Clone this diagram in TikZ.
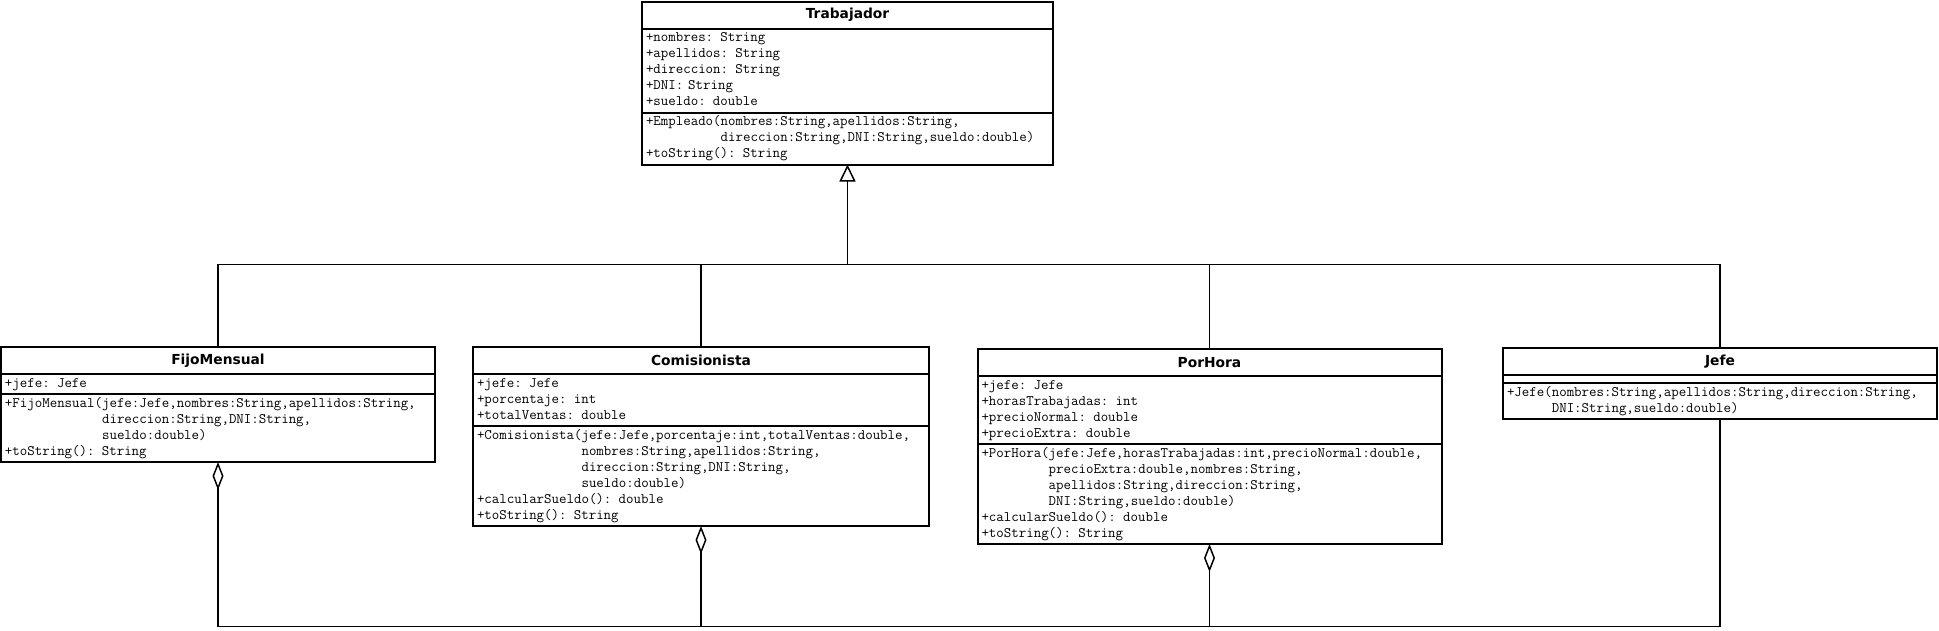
\documentclass[tikz,border=0pt]{standalone}
\usepackage{fontspec}
\usepackage{tikz}
\usetikzlibrary{arrows.meta}
\usetikzlibrary{positioning}

\newfontfamily\umlsans{DejaVu Sans}
\newcommand{\umlrows}[1]{\begin{tabular}{@{}l@{}}#1\end{tabular}}

\begin{document}
\begin{tikzpicture}[x=1pt, y=-1pt,
        classname/.style={draw, line width=2pt, outer sep=0pt, inner sep=0pt, minimum width=#1, minimum height=27pt, font=\umlsans\bfseries\fontsize{13.8}{16}\selectfont},
        members/.style={draw, line width=2pt, outer sep=0pt, inner xsep=4pt, inner ysep=2pt, text width=#1, align=left, font=\ttfamily\fontsize{14.5}{16}\selectfont},
        link/.style={line width=1.5pt},
        aggr/.style={link, {Diamond[open, length=28pt, width=11pt]}-},
        inherit/.style={link, -{Triangle[open, length=17pt, width=16pt]}}]
        \path[use as bounding box, fill=white] (0,0) rectangle (1939,630);

        \node[classname=411pt, anchor=north west] (trab) at (642,1.5) {Trabajador};
        \node[members=403pt, below=0pt of trab] (trab-a) {\umlrows{+nombres: String\\ +apellidos: String\\ +direccion: String\\ +DNI: String\\ +sueldo: double}};
        \node[members=403pt, below=0pt of trab-a] (trab-m) {\umlrows{+Empleado(nombres:String,apellidos:String,\\ \phantom{+Empleado(}direccion:String,DNI:String,sueldo:double)\\ +toString(): String}};

        \node[classname=434pt, anchor=north west] (fijo) at (1,347) {FijoMensual};
        \node[members=426pt, below=0pt of fijo] (fijo-a) {\umlrows{+jefe: Jefe}};
        \node[members=426pt, below=0pt of fijo-a] (fijo-m) {\umlrows{+FijoMensual(jefe:Jefe,nombres:String,apellidos:String,\\ \phantom{+FijoMensual(}direccion:String,DNI:String,\\ \phantom{+FijoMensual(}sueldo:double)\\ +toString(): String}};

        \node[classname=456pt, right=38pt of fijo] (comi) {Comisionista};
        \node[members=448pt, below=0pt of comi] (comi-a) {\umlrows{+jefe: Jefe\\ +porcentaje: int\\ +totalVentas: double}};
        \node[members=448pt, below=0pt of comi-a] (comi-m) {\umlrows{+Comisionista(jefe:Jefe,porcentaje:int,totalVentas:double,\\ \phantom{+Comisionista(}nombres:String,apellidos:String,\\ \phantom{+Comisionista(}direccion:String,DNI:String,\\ \phantom{+Comisionista(}sueldo:double)\\ +calcularSueldo(): double\\ +toString(): String}};

        \node[classname=464pt, right=48.5pt of comi, yshift=-2pt] (porh) {PorHora};
        \node[members=456pt, below=0pt of porh] (porh-a) {\umlrows{+jefe: Jefe\\ +horasTrabajadas: int\\ +precioNormal: double\\ +precioExtra: double}};
        \node[members=456pt, below=0pt of porh-a] (porh-m) {\umlrows{+PorHora(jefe:Jefe,horasTrabajadas:int,precioNormal:double,\\ \phantom{+PorHora(}precioExtra:double,nombres:String,\\ \phantom{+PorHora(}apellidos:String,direccion:String,\\ \phantom{+PorHora(}DNI:String,sueldo:double)\\ +calcularSueldo(): double\\ +toString(): String}};

        \node[classname=434pt, right=61.5pt of porh, yshift=1pt] (jefe) {Jefe};
        \node[members=426pt, minimum height=8pt, below=0pt of jefe] (jefe-a) {};
        \node[members=426pt, below=0pt of jefe-a] (jefe-m) {\umlrows{+Jefe(nombres:String,apellidos:String,direccion:String,\\ \phantom{+Jefe(}DNI:String,sueldo:double)}};

        \coordinate[below=100pt of trab-m.south] (junc);
        \coordinate[below=82.5pt of porh-m.south] (bus);

        \draw[inherit] (junc) -- (trab-m.south);
        \draw[link] (fijo.north) -- (fijo.north |- junc) -- (jefe.north |- junc) -- (jefe.north);
        \draw[link] (comi.north) -- (comi.north |- junc);
        \draw[link] (porh.north) -- (porh.north |- junc);

        \draw[aggr] (fijo-m.south) -- (fijo-m.south |- bus) -- (jefe-m.south |- bus) -- (jefe-m.south);
        \draw[aggr] (comi-m.south) -- (comi-m.south |- bus);
        \draw[aggr] (porh-m.south) -- (porh-m.south |- bus);
\end{tikzpicture}
\end{document}
